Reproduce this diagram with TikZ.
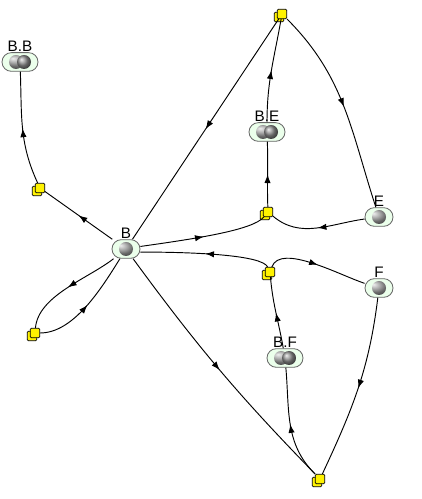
\documentclass[tikz,border=0pt]{standalone}
\usepackage{fontspec}
\setmainfont{Liberation Sans}
\usetikzlibrary{arrows.meta,decorations.markings,shadows}

\begin{document}
\begin{tikzpicture}[x=0.3mm, y=0.3mm,
  species/.style={rectangle, rounded corners=2.8mm, draw=black!60, line width=0.7pt, fill=green!8, minimum width=8.4mm, minimum height=5.6mm, inner sep=0pt,
    path picture={\shade[ball color=gray!85] (path picture bounding box.center) circle (2.1mm);}},
  complex/.style={species, minimum width=10.8mm,
    path picture={\shade[ball color=gray!85] ([xshift=-1.2mm]path picture bounding box.center) circle (2.1mm);
                  \shade[ball color=gray!85] ([xshift=1.2mm]path picture bounding box.center) circle (2.1mm);}},
  reaction/.style={rectangle, draw=black, line width=0.6pt, fill=yellow, minimum size=2.8mm, inner sep=0pt, rounded corners=0.8pt,
    copy shadow={shadow xshift=-0.9mm, shadow yshift=-0.9mm}},
  flow/.style={line width=0.8pt, postaction={decorate},
    decoration={markings, mark=at position 0.5 with {\arrow{Latex[length=2.6mm,width=1.9mm]}}}},
  every label/.style={font=\fontsize{13}{15}\selectfont, inner sep=0.8pt}
]
\useasboundingbox (0,0) rectangle (422,499);

% Species
\node[complex, label=above:B.B] (BB) at (20,437) {};
\node[species, label=above:B] (B) at (126,250) {};
\node[complex, label=above:B.E] (BE) at (267,367) {};
\node[species, label=above:E] (E) at (379,282) {};
\node[species, label=above:F] (F) at (379,211) {};
\node[complex, label=above:B.F] (BF) at (285,141) {};

% Reactions
\node[reaction] (r1) at (40,311) {};
\node[reaction] (r2) at (282,485) {};
\node[reaction] (r3) at (268,287) {};
\node[reaction] (r4) at (270,227) {};
\node[reaction] (r5) at (35,166) {};
\node[reaction] (r6) at (320,20) {};

% Arrows
\draw[flow] (B) -- (r1);
\draw[flow] (r1) to[out=115,in=-88] (BB);
\draw[flow] (r2) -- (B);
\draw[flow] (BE) to[out=90,in=-100] (r2);
\draw[flow] (r2) to[out=-45,in=108] (E);
\draw[flow] (E) to[out=188,in=-40] (r3);
\draw[flow] (B.10) to[out=8,in=-130,out distance=18mm,in distance=5mm] (r3);
\draw[flow] (r3) to[out=92,in=-88] (BE);
\draw[flow] (r4) to[out=115,in=0,out distance=4mm,in distance=16mm] (B.-12);
\draw[flow] (BF) to[out=100,in=-85] (r4);
\draw[flow] (r4) to[out=70,in=162,looseness=0.7] (F);
\draw[flow] (B) to[out=-142,in=85,looseness=0.8] (r5);
\draw[flow] (r5) to[out=0,in=-122,looseness=0.8] (B);
\draw[flow] (B) to[bend right=4] (r6);
\draw[flow] (F) to[out=-97,in=65] (r6);
\draw[flow] (r6) to[out=135,in=-85] (BF);

\end{tikzpicture}
\end{document}
